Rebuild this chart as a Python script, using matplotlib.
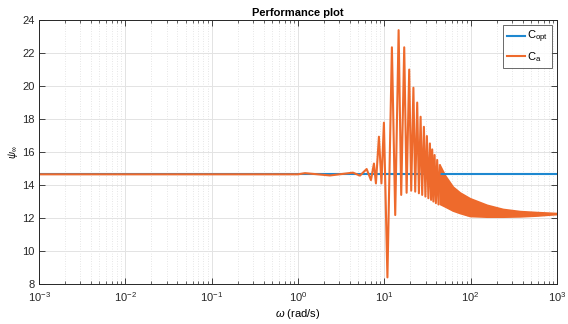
import numpy as np
import matplotlib
matplotlib.use("Agg")
import matplotlib.pyplot as plt
from matplotlib.ticker import LogLocator, NullFormatter, MultipleLocator, FixedLocator, FixedFormatter

plt.rcParams['font.family'] = ['Liberation Sans', 'DejaVu Sans']
plt.rcParams['mathtext.fontset'] = 'custom'
plt.rcParams['mathtext.it'] = 'Liberation Sans:italic'
plt.rcParams['mathtext.rm'] = 'Liberation Sans'

# C_opt: constant performance level
w_opt = [1e-3, 1e3]
psi_opt = [14.65, 14.65]

# C_a: oscillating part (extrema)
w_a = [1e-3, 1.0, 1.205, 2.347, 4.33, 5.22, 6.24, 7.0, 7.58, 7.99, 8.66, 9.26,
       9.89, 10.86, 12.24, 13.37, 14.64, 15.69, 17.0, 18.12, 19.42, 20.48,
       21.72, 22.79, 24.03, 25.15, 26.31, 27.46, 28.73, 29.90, 31.12, 32.39,
       33.72, 34.81, 35.85, 37.01, 38.21, 39.55, 40.95, 42.4, 44.0]
psi_a = [14.65, 14.65, 14.72, 14.58, 14.75, 14.57, 14.97, 14.3, 15.3, 14.1, 16.93, 14.1,
         17.78, 8.4, 22.35, 12.18, 23.39, 13.4, 22.35, 13.53, 21.0, 13.66,
         19.9, 13.6, 19.0, 13.5, 18.14, 13.4, 17.53, 13.3, 16.97, 13.2,
         16.52, 13.1, 16.16, 13.0, 15.82, 12.9, 15.52, 12.82, 15.2]

# C_a: dense oscillation band at high frequency (upper/lower envelope)
w_band = [44.0, 50.3, 62.2, 75.0, 97.9, 154, 236, 371, 584, 1000]
band_hi = [15.2, 14.6, 13.9, 13.55, 13.2, 12.8, 12.55, 12.42, 12.36, 12.3]
band_lo = [12.85, 12.7, 12.45, 12.3, 12.12, 12.08, 12.08, 12.1, 12.15, 12.24]

# tick labels
x_ticks = [1e-3, 1e-2, 1e-1, 1e0, 1e1, 1e2, 1e3]
x_ticklabels = [r'10$^{\mathregular{-3}}$', r'10$^{\mathregular{-2}}$', r'10$^{\mathregular{-1}}$',
                r'10$^{\mathregular{0}}$', r'10$^{\mathregular{1}}$', r'10$^{\mathregular{2}}$',
                r'10$^{\mathregular{3}}$']

blue = '#1E88D0'
orange = '#EE6A2C'

fig = plt.figure(figsize=(5.68, 3.24), dpi=100)
ax = fig.add_axes([0.0687, 0.1235, 0.9119, 0.8145])

ax.plot(w_opt, psi_opt, color=blue, lw=1.5, label=r'C$_{\rm opt}$')
ax.plot(w_a, psi_a, color=orange, lw=1.5, label=r'C$_{\rm a}$')
ax.fill_between(w_band, band_lo, band_hi, color=orange, lw=1.2, edgecolor=orange)

ax.set_xscale('log')
ax.set_xlim(1e-3, 1e3)
ax.set_ylim(8, 24)
ax.yaxis.set_major_locator(MultipleLocator(2))
ax.xaxis.set_major_locator(FixedLocator(x_ticks))
ax.xaxis.set_major_formatter(FixedFormatter(x_ticklabels))
ax.xaxis.set_minor_locator(LogLocator(base=10, subs=np.arange(2, 10), numticks=100))
ax.xaxis.set_minor_formatter(NullFormatter())

ax.grid(True, which='major', color='#e3e3e3', lw=0.7, ls='-')
ax.grid(True, which='minor', axis='x', color='#dedede', lw=0.6, ls=(0, (1, 2)))
ax.set_axisbelow(True)

ax.tick_params(which='both', direction='in', top=True, right=True, labelsize=8, colors='#262626')
ax.tick_params(which='major', length=4, width=0.6, pad=3)
ax.tick_params(axis='x', which='major', pad=4.5)
ax.tick_params(which='minor', length=2.5, width=0.5)
for s in ax.spines.values():
    s.set_color('#262626')
    s.set_linewidth(0.7)

ax.set_title('Performance plot', fontsize=8, fontweight='bold', pad=3)
ax.set_xlabel(r'$\omega$ (rad/s)', fontsize=8, labelpad=2)
ax.set_ylabel(r'$\psi_\infty$', fontsize=7, labelpad=2)

leg = ax.legend(loc='upper right', fontsize=8, frameon=True, fancybox=False,
                edgecolor='#262626', handlelength=1.6, borderpad=0.35,
                labelspacing=0.45, handletextpad=0.2, borderaxespad=0.45)
leg.get_frame().set_linewidth(0.6)

fig.savefig('out.png', dpi=100)
